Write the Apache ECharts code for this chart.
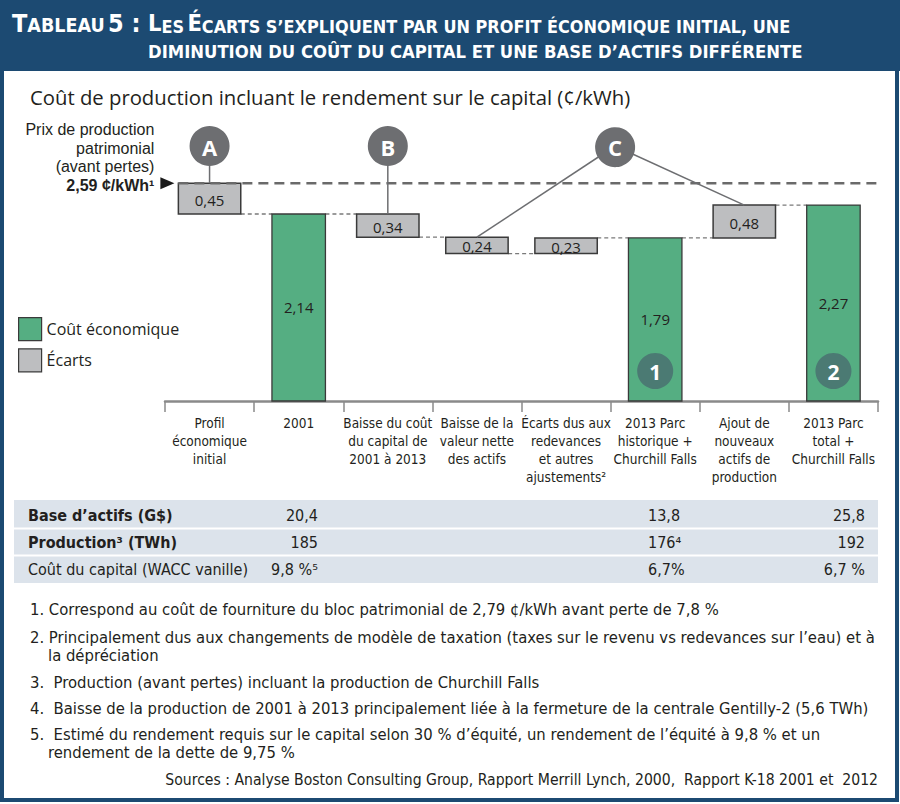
<!DOCTYPE html>
<html><head><meta charset="utf-8">
<script src="https://cdn.jsdelivr.net/npm/echarts@6/dist/echarts.min.js"></script>
<style>html,body{margin:0;padding:0;background:#fff}#c{width:900px;height:804px}</style>
</head><body><div id="c"></div>
<script>
// ---------- DATA ----------
const categories = ['Profil\néconomique\ninitial', '2001', 'Baisse du coût\ndu capital de\n2001 à 2013', 'Baisse de la\nvaleur nette\ndes actifs', 'Écarts dus aux\nredevances\net autres\najustements²', '2013 Parc\nhistorique +\nChurchill Falls', 'Ajout de\nnouveaux\nactifs de\nproduction', '2013 Parc\ntotal +\nChurchill Falls'];
const coutEconomique = [null, 2.14, null, null, null, 1.79, null, 2.27];
const ecarts = [-0.45, null, -0.34, -0.24, 0.23, null, 0.48, null];
const prixPatrimonial = 2.59;
const prixLabel = 'Prix de production\npatrimonial\n(avant pertes)\n{b|2,59 ¢/kWh¹}';
const pastilles = [null, null, null, null, null, '1', null, '2'];
const annotations = [
  { lettre: 'A', cat: 0, cibles: [0] },
  { lettre: 'B', cat: 2, cibles: [2] },
  { lettre: 'C', cat: 4.55, cibles: [3, 6] }
];
const tableRows = ['Base d’actifs (G$)', 'Production³ (TWh)', 'Coût du capital (WACC vanille)'];
const tableRowsBold = [true, true, false];
const table2001 = ['20,4', '185', '9,8 %⁵'];
const table2013 = ['13,8', '176⁴', '6,7%'];
const tableTotal = ['25,8', '192', '6,7 %'];
const notes = [
  ['1. Correspond au coût de fourniture du bloc patrimonial de 2,79 ¢/kWh avant perte de 7,8 %'],
  ['2. Principalement dus aux changements de modèle de taxation (taxes sur le revenu vs redevances sur l’eau) et à', 'la dépréciation'],
  ['3.  Production (avant pertes) incluant la production de Churchill Falls'],
  ['4.  Baisse de la production de 2001 à 2013 principalement liée à la fermeture de la centrale Gentilly-2 (5,6 TWh)'],
  ['5.  Estimé du rendement requis sur le capital selon 30 % d’équité, un rendement de l’équité à 9,8 % et un', 'rendement de la dette de 9,75 %']
];
const sources = 'Sources : Analyse Boston Consulting Group, Rapport Merrill Lynch, 2000,  Rapport K-18 2001 et  2012';
const titre0 = '{b|T}{s|ABLEAU} {b|5 :}';
const titre1 = '{b|L}{s|ES} {b|É}{s|CARTS S’EXPLIQUENT PAR UN PROFIT ÉCONOMIQUE INITIAL, UNE}';
const titre2 = '{s|DIMINUTION DU COÛT DU CAPITAL ET UNE BASE D’ACTIFS DIFFÉRENTE}';
const sousTitre = 'Coût de production incluant le rendement sur le capital (¢/kWh)';

// ---------- STYLE ----------
const GREEN = '#55ae82', GRAY = '#bdbec0', EDGE = '#3a3a3a', BLUE = '#1c4a72', TEXT = '#231f20';
const CIRCLE = '#6d6e71', BADGE = '#4b7a73';
const NARROW = "'Liberation Sans Narrow','DejaVu Sans Condensed','Roboto Condensed',Roboto,sans-serif";
const SANS = "'Open Sans','Noto Sans',sans-serif";
const LIB = "'Liberation Sans',Arial,sans-serif";
const Y_MIN = -0.6, Y_MAX = 3.4;
const GREEN_W = 0.6, GRAY_W = 0.7;
const fmt = v => v.toFixed(2).replace('.', ',');

// ---------- WATERFALL ----------
let level = prixPatrimonial;
const ecartBoxes = [], totalBars = [], levelsAfter = [];
categories.forEach((c, i) => {
  if (ecarts[i] != null) {
    const from = level, to = level + ecarts[i];
    ecartBoxes.push([i, from, to, Math.abs(ecarts[i])]);
    level = to;
  } else {
    totalBars.push([i, coutEconomique[i]]);
    level = coutEconomique[i];
  }
  levelsAfter.push(level);
});
const connectors = levelsAfter.slice(0, -1).map((l, i) => [i, l]);
const widthOf = i => ecarts[i] != null ? GRAY_W : GREEN_W;

const chart = echarts.init(document.getElementById('c'), null, { renderer: 'svg' });

const option = {
  animation: false,
  grid: { left: 165, right: 22, top: 128, bottom: 403 },
  legend: {
    data: ['Coût économique', 'Écarts'], orient: 'vertical', left: 18, top: 317,
    icon: 'rect', itemWidth: 23, itemHeight: 23, itemGap: 7, padding: 0,
    itemStyle: { borderColor: EDGE, borderWidth: 1.2 },
    textStyle: { fontSize: 16, fontFamily: SANS, color: TEXT }, selectedMode: false
  },
  xAxis: {
    type: 'category', data: categories,
    axisLine: { onZero: false, lineStyle: { color: '#8a8a8a', width: 2.5 } },
    axisTick: { show: true, length: 11, lineStyle: { color: '#8a8a8a', width: 1.5 } },
    axisLabel: { interval: 0, fontSize: 13.5, lineHeight: 18, color: TEXT, fontFamily: NARROW, margin: 13 }
  },
  yAxis: { type: 'value', min: Y_MIN, max: Y_MAX, show: false },
  series: [
    {
      type: 'custom', name: 'connecteurs', data: connectors, z: 1,
      renderItem: (p, api) => {
        const i = api.value(0), v = api.value(1);
        const a = api.coord([i, v]), b = api.coord([i + 1, v]);
        const bw = api.size([1, 0])[0];
        return {
          type: 'line',
          shape: { x1: a[0] + bw * widthOf(i) / 2, y1: a[1], x2: b[0] - bw * widthOf(i + 1) / 2, y2: b[1] },
          style: { stroke: '#7a7a7a', lineWidth: 1.3, lineDash: [4, 3] }
        };
      }
    },
    {
      type: 'custom', name: 'Écarts', data: ecartBoxes, z: 3,
      itemStyle: { color: GRAY },
      encode: { x: 0, y: [1, 2] },
      renderItem: (p, api) => {
        const i = api.value(0);
        const a = api.coord([i, api.value(1)]), b = api.coord([i, api.value(2)]);
        const w = api.size([1, 0])[0] * GRAY_W;
        const y0 = Math.min(a[1], b[1]), h = Math.abs(a[1] - b[1]);
        return {
          type: 'group', children: [
            { type: 'rect', shape: { x: a[0] - w / 2, y: y0, width: w, height: h }, style: { fill: GRAY, stroke: EDGE, lineWidth: 1.5 } },
            { type: 'text', style: { text: fmt(api.value(3)), x: a[0], y: y0 + h / 2 + 1, align: 'center', verticalAlign: 'middle', fontSize: 15, fontFamily: SANS, fill: TEXT } }
          ]
        };
      }
    },
    {
      type: 'custom', name: 'Coût économique', data: totalBars, z: 3,
      itemStyle: { color: GREEN },
      encode: { x: 0, y: 1 },
      renderItem: (p, api) => {
        const i = api.value(0), v = api.value(1);
        const top = api.coord([i, v]), bot = api.coord([i, Y_MIN]);
        const w = api.size([1, 0])[0] * GREEN_W;
        const children = [
          { type: 'rect', shape: { x: top[0] - w / 2, y: top[1], width: w, height: bot[1] - top[1] }, style: { fill: GREEN, stroke: EDGE, lineWidth: 1.3 } },
          { type: 'text', style: { text: fmt(v), x: top[0], y: (top[1] + bot[1]) / 2, align: 'center', verticalAlign: 'middle', fontSize: 15, fontFamily: SANS, fill: TEXT } }
        ];
        if (pastilles[i]) {
          children.push({ type: 'circle', shape: { cx: top[0], cy: bot[1] - 30, r: 18 }, style: { fill: BADGE } });
          children.push({ type: 'text', style: { text: pastilles[i], x: top[0], y: bot[1] - 29, align: 'center', verticalAlign: 'middle', fontSize: 21, fontWeight: 'bold', fontFamily: SANS, fill: '#fff' } });
        }
        return { type: 'group', children };
      }
    },
    {
      type: 'custom', name: 'prix', data: [[0, prixPatrimonial]], z: 4,
      renderItem: (p, api) => {
        const v = api.value(1);
        const a = api.coord([0, v]), b = api.coord([categories.length - 1, v]);
        const bw = api.size([1, 0])[0];
        const x0 = a[0] - bw * GRAY_W / 2, x1 = b[0] + bw / 2;
        return {
          type: 'group', children: [
            { type: 'line', shape: { x1: x0, y1: a[1], x2: x1, y2: a[1] }, style: { stroke: '#6a6a6a', lineWidth: 2.6, lineDash: [10, 6] } },
            { type: 'polygon', shape: { points: [[x0 - 18, a[1] - 6], [x0 - 4, a[1]], [x0 - 18, a[1] + 6]] }, style: { fill: '#1a1a1a' } },
            {
              type: 'text', style: {
                text: prixLabel, x: x0 - 24, y: a[1] + 11, align: 'right', verticalAlign: 'bottom',
                fontSize: 16, lineHeight: 18.5, fontFamily: LIB, fill: TEXT,
                rich: { b: { fontSize: 16, lineHeight: 18.5, fontWeight: 'bold', fontFamily: LIB, fill: TEXT } }
              }
            }
          ]
        };
      }
    }
  ]
};
chart.setOption(option);

// ---------- GRAPHIC (title, annotations, table, notes) ----------
const px = (x, y) => {
  const f = Math.floor(x), r = x - f;
  const a = chart.convertToPixel({ gridIndex: 0 }, [f, y]);
  if (r === 0) return a;
  const b = chart.convertToPixel({ gridIndex: 0 }, [f + 1, y]);
  return [a[0] + (b[0] - a[0]) * r, a[1]];
};
const g = [];
g.push({ type: 'rect', shape: { x: 0, y: 0, width: 900, height: 71 }, style: { fill: BLUE }, z: 0 });
g.push({ type: 'rect', shape: { x: 2, y: 2, width: 895, height: 798 }, style: { fill: 'none', stroke: BLUE, lineWidth: 4 }, z: 0 });
const mkRich = (big, small) => ({
  b: { fontSize: big, fontWeight: 'bold', fontFamily: NARROW, fill: '#fff', verticalAlign: 'bottom' },
  s: { fontSize: small, fontWeight: 'bold', fontFamily: NARROW, fill: '#fff', verticalAlign: 'bottom' }
});
g.push({ type: 'text', x: 12, y: 23, style: { text: titre0, rich: mkRich(25, 19.5), align: 'left', verticalAlign: 'middle' } });
g.push({ type: 'text', x: 148, y: 23, style: { text: titre1, rich: mkRich(23.5, 17.9), align: 'left', verticalAlign: 'middle' } });
g.push({ type: 'text', x: 148, y: 51, style: { text: titre2, rich: mkRich(23, 18.3), align: 'left', verticalAlign: 'middle' } });
g.push({ type: 'text', x: 30, y: 97, style: { text: sousTitre, fontSize: 20.3, fontFamily: SANS, fill: TEXT, align: 'left', verticalAlign: 'middle' } });

// annotations
const CIRCLE_Y = 146;
annotations.forEach(an => {
  const c = px(an.cat, 0);
  an.cibles.forEach(t => {
    const box = ecartBoxes.find(b => b[0] === t);
    const tp = px(t, Math.max(box[1], box[2]));
    g.push({ type: 'line', shape: { x1: c[0], y1: CIRCLE_Y, x2: tp[0], y2: tp[1] }, style: { stroke: CIRCLE, lineWidth: 1.5 }, z: 5 });
  });
  g.push({ type: 'circle', shape: { cx: c[0], cy: CIRCLE_Y, r: 20 }, style: { fill: CIRCLE }, z: 6 });
  g.push({ type: 'text', x: c[0], y: CIRCLE_Y + 1, style: { text: an.lettre, fontSize: 22, fontWeight: 'bold', fontFamily: SANS, fill: '#fff', align: 'center', verticalAlign: 'middle' }, z: 7 });
});

// table
g.push({ type: 'rect', shape: { x: 14, y: 500, width: 864, height: 83 }, style: { fill: '#dce3eb' } });
g.push({ type: 'rect', shape: { x: 14, y: 527.5, width: 864, height: 2 }, style: { fill: '#fff' } });
g.push({ type: 'rect', shape: { x: 14, y: 554.5, width: 864, height: 2 }, style: { fill: '#fff' } });
const rowY = [515, 542, 569];
tableRows.forEach((r, k) => {
  const st = { fontSize: 16, fontFamily: NARROW, fill: TEXT, verticalAlign: 'middle' };
  g.push({ type: 'text', x: 28, y: rowY[k], style: Object.assign({ text: r, align: 'left', fontWeight: tableRowsBold[k] ? 'bold' : 'normal' }, st) });
  g.push({ type: 'text', x: 318, y: rowY[k], style: Object.assign({ text: table2001[k], align: 'right' }, st) });
  g.push({ type: 'text', x: 648, y: rowY[k], style: Object.assign({ text: table2013[k], align: 'left' }, st) });
  g.push({ type: 'text', x: 865, y: rowY[k], style: Object.assign({ text: tableTotal[k], align: 'right' }, st) });
});

// notes
const noteY = [[609], [637, 655], [682], [708], [734, 752]];
notes.forEach((lines, k) => {
  lines.forEach((t, j) => {
    g.push({ type: 'text', x: j === 0 ? 30 : 48, y: noteY[k][j], style: { text: t, fontSize: 16.5, fontFamily: NARROW, fill: TEXT, align: 'left', verticalAlign: 'middle' } });
  });
});
g.push({ type: 'text', x: 878, y: 780, style: { text: sources, fontSize: 15.6, fontFamily: NARROW, fill: TEXT, align: 'right', verticalAlign: 'middle' } });

chart.setOption({ graphic: g });
</script></body></html>
